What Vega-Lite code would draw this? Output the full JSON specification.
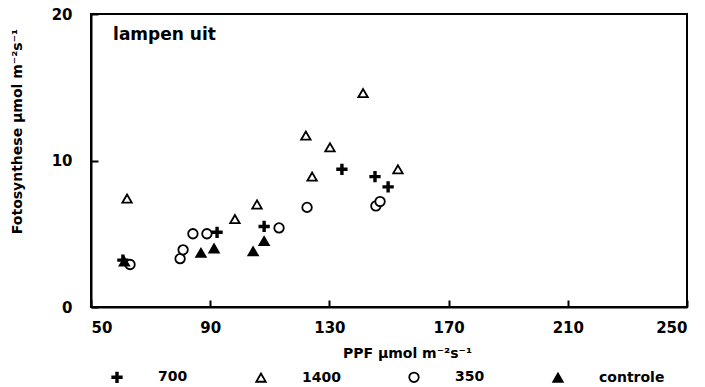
{
  "$schema": "https://vega.github.io/schema/vega-lite/v6.json",
  "width": 596,
  "height": 293,
  "autosize": "none",
  "padding": {"left": 91, "top": 14, "right": 18, "bottom": 80},
  "background": "white",
  "config": {
    "view": {"stroke": "black", "strokeWidth": 2},
    "font": "DejaVu Sans",
    "axis": {
      "grid": false,
      "domainColor": "black",
      "domainWidth": 2,
      "tickColor": "black",
      "tickWidth": 2,
      "tickSize": -7,
      "labelFont": "DejaVu Sans",
      "labelFontWeight": "bold",
      "labelFontSize": 15,
      "labelColor": "black",
      "titleFont": "DejaVu Sans",
      "titleFontWeight": "bold",
      "titleFontSize": 14,
      "titleColor": "black"
    },
    "legend": {
      "title": null,
      "orient": "none",
      "direction": "horizontal",
      "legendX": 19,
      "legendY": 356,
      "columns": 4,
      "columnPadding": 64,
      "labelOffset": 34,
      "symbolSize": 90,
      "symbolStrokeWidth": 1.8,
      "labelFont": "DejaVu Sans",
      "labelFontWeight": "bold",
      "labelFontSize": 14,
      "labelColor": "black"
    }
  },
  "layer": [
    {
      "data": {
        "values": [
          {"ppf": 60.7, "fs": 3.2, "co2": "700"},
          {"ppf": 92.3, "fs": 5.1, "co2": "700"},
          {"ppf": 108.1, "fs": 5.5, "co2": "700"},
          {"ppf": 134.2, "fs": 9.4, "co2": "700"},
          {"ppf": 145.3, "fs": 8.9, "co2": "700"},
          {"ppf": 149.7, "fs": 8.2, "co2": "700"},
          {"ppf": 62.1, "fs": 7.4, "co2": "1400"},
          {"ppf": 98.3, "fs": 6.0, "co2": "1400"},
          {"ppf": 105.7, "fs": 7.0, "co2": "1400"},
          {"ppf": 122.1, "fs": 11.7, "co2": "1400"},
          {"ppf": 124.2, "fs": 8.9, "co2": "1400"},
          {"ppf": 130.2, "fs": 10.9, "co2": "1400"},
          {"ppf": 141.3, "fs": 14.6, "co2": "1400"},
          {"ppf": 153.0, "fs": 9.4, "co2": "1400"},
          {"ppf": 63.1, "fs": 2.9, "co2": "350"},
          {"ppf": 79.9, "fs": 3.3, "co2": "350"},
          {"ppf": 80.9, "fs": 3.9, "co2": "350"},
          {"ppf": 84.2, "fs": 5.0, "co2": "350"},
          {"ppf": 88.9, "fs": 5.0, "co2": "350"},
          {"ppf": 113.1, "fs": 5.4, "co2": "350"},
          {"ppf": 122.5, "fs": 6.8, "co2": "350"},
          {"ppf": 145.6, "fs": 6.9, "co2": "350"},
          {"ppf": 147.0, "fs": 7.2, "co2": "350"},
          {"ppf": 61.2, "fs": 3.1, "co2": "controle"},
          {"ppf": 86.9, "fs": 3.7, "co2": "controle"},
          {"ppf": 91.3, "fs": 4.0, "co2": "controle"},
          {"ppf": 104.4, "fs": 3.8, "co2": "controle"},
          {"ppf": 108.1, "fs": 4.5, "co2": "controle"}
        ]
      },
      "mark": {"type": "point", "opacity": 1, "strokeWidth": 1.8, "size": 90},
      "encoding": {
        "x": {
          "field": "ppf",
          "type": "quantitative",
          "scale": {"domain": [50, 250], "nice": false, "zero": false},
          "axis": {
            "values": [50, 90, 130, 170, 210, 250],
            "labelPadding": 20,
            "title": "PPF µmol m⁻²s⁻¹",
            "titleX": 316,
            "titleY": 46,
            "titleBaseline": "middle"
          }
        },
        "y": {
          "field": "fs",
          "type": "quantitative",
          "scale": {"domain": [0, 20], "nice": false},
          "axis": {
            "values": [0, 10, 20],
            "labelPadding": 26,
            "title": "Fotosynthese µmol m⁻²s⁻¹",
            "titleX": -74,
            "titleY": 117,
            "titleBaseline": "middle",
            "titleAngle": -90
          }
        },
        "shape": {
          "field": "co2",
          "type": "nominal",
          "scale": {
            "domain": ["700", "1400", "350", "controle"],
            "range": ["M-1,-0.17H-0.17V-1H0.17V-0.17H1V0.17H0.17V1H-0.17V0.17H-1Z", "triangle-up", "circle", "triangle-up"]
          }
        },
        "fill": {
          "field": "co2",
          "type": "nominal",
          "scale": {
            "domain": ["700", "1400", "350", "controle"],
            "range": ["black", "white", "white", "black"]
          }
        },
        "stroke": {
          "field": "co2",
          "type": "nominal",
          "scale": {
            "domain": ["700", "1400", "350", "controle"],
            "range": ["black", "black", "black", "black"]
          }
        }
      }
    },
    {
      "data": {"values": [{"ppf": 57.4, "fs": 18.6, "label": "lampen uit"}]},
      "mark": {"type": "text", "align": "left", "baseline": "middle", "font": "DejaVu Sans", "fontWeight": "bold", "fontSize": 17, "color": "black"},
      "encoding": {
        "x": {"field": "ppf", "type": "quantitative"},
        "y": {"field": "fs", "type": "quantitative"},
        "text": {"field": "label"}
      }
    }
  ]
}
